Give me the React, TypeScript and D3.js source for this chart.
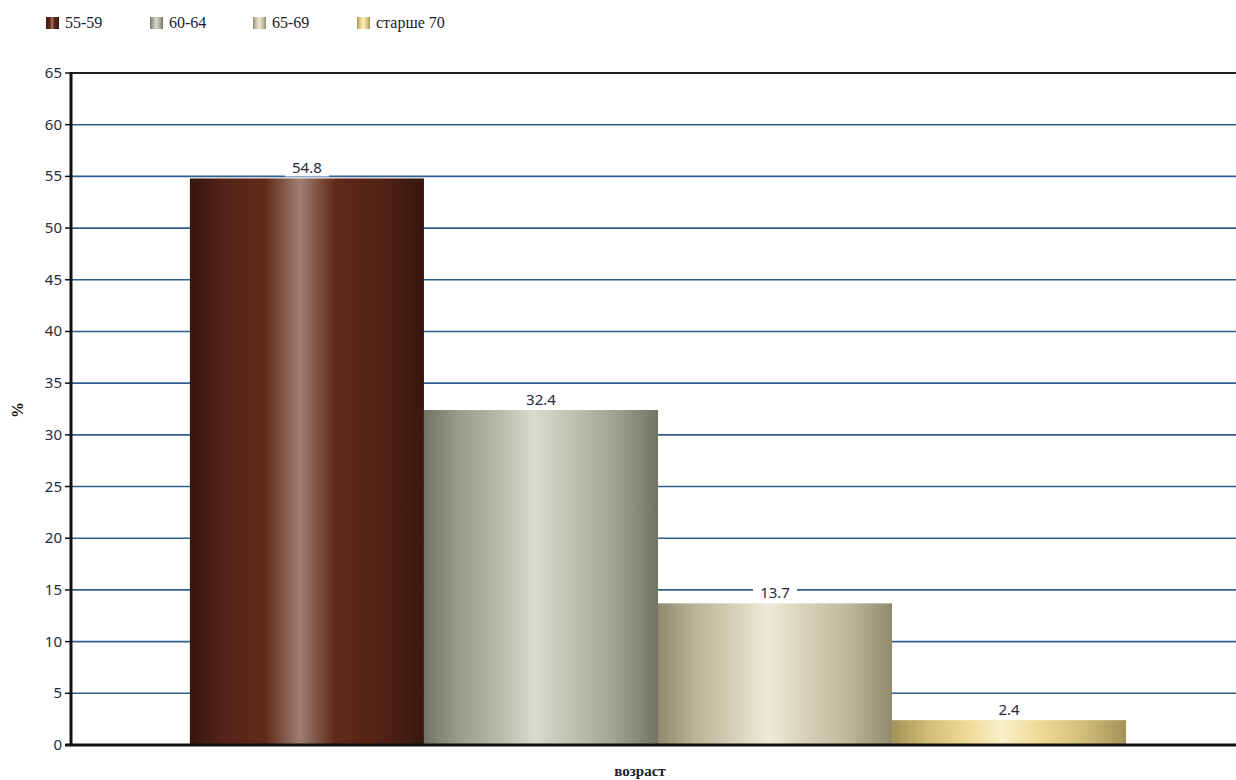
import React from "react";
import * as d3 from "d3";

const categories = ["возраст"];
const series = ["55-59", "60-64", "65-69", "старше 70"];
const values = [54.8, 32.4, 13.7, 2.4];
const yTicks = [0, 5, 10, 15, 20, 25, 30, 35, 40, 45, 50, 55, 60, 65];

const gradients = [
  ["#36170e", "#56241a", "#5e2a1a", "#9e7e70", "#5e2a1a", "#542316", "#36170e"],
  ["#727364", "#9c9e8d", "#b8baa9", "#dadad0", "#c2c4b4", "#a4a695", "#727364"],
  ["#8f896d", "#bab498", "#d4cfb6", "#edebd8", "#d8d3bb", "#c0ba9e", "#8f896d"],
  ["#a29256", "#d2be78", "#eddA94", "#faf1cb", "#eedb97", "#d4c27e", "#a29256"],
];
const stops = [0, 0.16, 0.32, 0.47, 0.62, 0.8, 1];

const W = 1236;
const H = 780;
const M = { left: 71, right: 1236, top: 73, bottom: 745 };

export default function App() {
  const y = d3.scaleLinear().domain([0, 65]).range([M.bottom, M.top]);
  const x0 = d3
    .scaleBand<string>()
    .domain(categories)
    .range([M.left, M.right + 9])
    .paddingInner(0)
    .paddingOuter(0.127);
  const x1 = d3
    .scaleBand<string>()
    .domain(series)
    .range([0, x0.bandwidth()])
    .padding(0);

  const legendX = [46, 150, 253, 357];

  return (
    <svg
      width={W}
      height={H}
      style={{ position: "absolute", left: 0, top: 0, background: "#fff" }}
    >
      <defs>
        {gradients.map((g, i) => (
          <linearGradient key={i} id={`g${i}`} x1="0" x2="1" y1="0" y2="0">
            {g.map((c, j) => (
              <stop key={j} offset={stops[j]} stopColor={c} />
            ))}
          </linearGradient>
        ))}
      </defs>

      {/* legend */}
      {series.map((s, i) => (
        <g key={s} transform={`translate(${legendX[i]},0)`}>
          <rect x={0} y={17} width={13} height={12} fill={`url(#g${i})`} />
          <text
            x={19}
            y={28}
            fontFamily="'Liberation Serif', serif"
            fontSize={16}
            fill="#1a1a2a"
          >
            {s}
          </text>
        </g>
      ))}

      {/* grid lines */}
      {yTicks
        .filter((t) => t > 0 && t < 65)
        .map((t) => (
          <line
            key={t}
            x1={M.left}
            x2={M.right}
            y1={y(t)}
            y2={y(t)}
            stroke="#2f5f8f"
            strokeWidth={1.6}
          />
        ))}
      {/* top border */}
      <line
        x1={M.left}
        x2={M.right}
        y1={y(65)}
        y2={y(65)}
        stroke="#222"
        strokeWidth={2}
      />

      {/* bars */}
      {categories.map((c) => (
        <g key={c} transform={`translate(${x0(c)},0)`}>
          {series.map((s, i) => (
            <rect
              key={s}
              x={x1(s)}
              y={y(values[i])}
              width={x1.bandwidth()}
              height={y(0) - y(values[i])}
              fill={`url(#g${i})`}
            />
          ))}
          {series.map((s, i) => {
            const cx = (x1(s) as number) + x1.bandwidth() / 2;
            const ty = y(values[i]) - 3;
            return (
              <g key={s + "l"}>
                <rect x={cx - 22} y={ty - 17} width={44} height={18} fill="#fff" />
                <text
                  x={cx}
                  y={ty - 2}
                  textAnchor="middle"
                  fontFamily="'Noto Sans', sans-serif"
                  fontSize={15}
                  fill="#2a2a3a"
                >
                  {values[i]}
                </text>
              </g>
            );
          })}
        </g>
      ))}

      {/* y axis */}
      <line
        x1={M.left}
        x2={M.left}
        y1={M.top - 1}
        y2={M.bottom + 1}
        stroke="#111"
        strokeWidth={3}
      />
      {yTicks.map((t) => (
        <g key={t}>
          <line
            x1={M.left - 6}
            x2={M.left}
            y1={y(t)}
            y2={y(t)}
            stroke="#111"
            strokeWidth={1.5}
          />
          <text
            x={M.left - 9}
            y={y(t) + 5}
            textAnchor="end"
            fontFamily="'Noto Sans', sans-serif"
            fontSize={15}
            fill="#2a2a3a"
          >
            {t}
          </text>
        </g>
      ))}
      {/* x axis */}
      <line
        x1={M.left - 6}
        x2={M.right}
        y1={M.bottom}
        y2={M.bottom}
        stroke="#111"
        strokeWidth={3}
      />

      {/* axis titles */}
      <text
        transform={`translate(23,410) rotate(-90)`}
        textAnchor="middle"
        fontFamily="'Liberation Serif', serif"
        fontWeight="bold"
        fontSize={16}
        fill="#111"
      >
        %
      </text>
      <text
        x={640}
        y={776}
        textAnchor="middle"
        fontFamily="'Liberation Serif', serif"
        fontWeight="bold"
        fontSize={15}
        fill="#1a1a2a"
      >
        возраст
      </text>
    </svg>
  );
}
